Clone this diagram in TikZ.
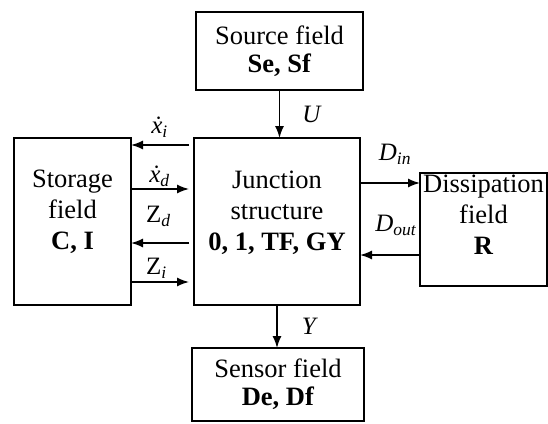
\documentclass[tikz,border=0pt]{standalone}
\usepackage{fontspec}
\setmainfont{Liberation Serif}
\usepackage{tikz}
\usetikzlibrary{arrows.meta,positioning,calc}

\begin{document}
\begin{tikzpicture}[
  blk/.style={rectangle, draw, line width=1.7pt, align=center, inner sep=2pt, outer sep=0pt, font=\fontsize{26.5}{31}\selectfont},
  lbl/.style={font=\fontsize{25}{27}\selectfont, inner sep=0pt},
  arrow/.style={->, >={Latex[length=12pt,width=9pt]}, line width=1.5pt}
]
\useasboundingbox (0,0) rectangle (548pt,-423pt);

\node[blk, minimum width=166pt, minimum height=167pt] (jun) at (277pt,-221.5pt) {Junction\\structure\\\textbf{0, 1, TF, GY}\\[-10pt]~};

\node[blk, minimum width=167pt, minimum height=78pt] (src) [above=48pt of jun, xshift=2.5pt] {Source field\\[-3pt]\textbf{Se, Sf}};
\draw[arrow] (src) -- (src |- jun.north) node[lbl, midway, right=22pt] {\textit{U}};

\node[blk, minimum width=117pt, minimum height=167pt] (sto) [left=63pt of jun] {Storage\\field\\\textbf{C, I}\\[-8pt]~};
\draw[arrow, shorten <=5pt] ([yshift=76.5pt]jun.west) -- ([yshift=76.5pt]sto.east) node[lbl, midway, above=7pt, xshift=-3pt] {\textit{\.x}\textsubscript{\textit{i}}};
\draw[arrow, shorten >=5pt] ([yshift=32.5pt]sto.east) -- ([yshift=32.5pt]jun.west) node[lbl, midway, above=2pt, xshift=-3pt] {\textit{\.x}\textsubscript{\textit{d}}};
\draw[arrow, shorten <=5pt] ([yshift=-21.5pt]jun.west) -- ([yshift=-21.5pt]sto.east) node[lbl, midway, above=16pt, xshift=-4pt] {Z\textsubscript{\textit{d}}};
\draw[arrow, shorten >=5pt] ([yshift=-60.5pt]sto.east) -- ([yshift=-60.5pt]jun.west) node[lbl, midway, above=3pt, xshift=-6pt] {Z\textsubscript{\textit{i}}};

\node[blk, minimum width=127pt, minimum height=111pt] (dis) [right=60pt of jun, yshift=-8pt] {Dissipation\\field\\\textbf{R}\\[-2pt]~};
\draw[arrow] ([yshift=38.5pt]jun.east) -- ([yshift=46.5pt]dis.west) node[lbl, midway, above=18pt, xshift=5pt] {\textit{D}\textsubscript{\textit{in}}};
\draw[arrow] ([yshift=-25.5pt]dis.west) -- ([yshift=-33.5pt]jun.east) node[lbl, midway, above=19pt, xshift=6pt] {\textit{D}\textsubscript{\textit{out}}};

\node[blk, minimum width=172pt, minimum height=73pt] (sen) [below=43pt of jun, xshift=1pt] {Sensor field\\[-3pt]\textbf{De, Df}};
\draw[arrow] (jun) -- (jun |- sen.north) node[lbl, midway, right=24pt] {\textit{Y}};

\end{tikzpicture}
\end{document}
